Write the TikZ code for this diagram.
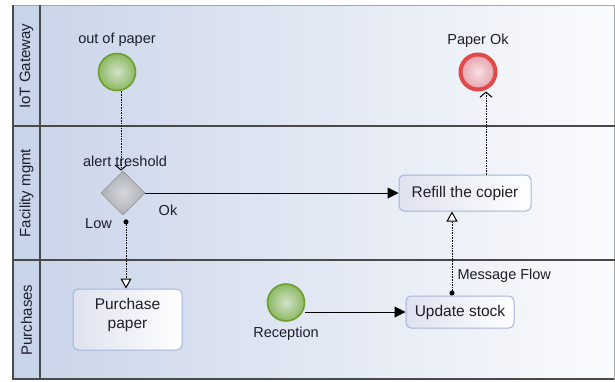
\documentclass[tikz,border=0pt]{standalone}
\usepackage{fontspec}
\setmainfont{Liberation Sans}
\usetikzlibrary{positioning, shapes.geometric, arrows.meta}
\definecolor{lanel}{HTML}{C9D4E9}
\definecolor{laner}{HTML}{FAFBFD}
\definecolor{headc}{HTML}{C8D4EA}
\definecolor{laneb}{HTML}{4A4A4A}
\definecolor{startb}{HTML}{6B9F2E}
\definecolor{startin}{HTML}{D3E3C9}
\definecolor{startout}{HTML}{8DB864}
\definecolor{endb}{HTML}{E34848}
\definecolor{endin}{HTML}{F7E2E5}
\definecolor{endout}{HTML}{E6A0AA}
\definecolor{gwin}{HTML}{D6D8DD}
\definecolor{gwout}{HTML}{ACAFB4}
\definecolor{taskb}{HTML}{A3B5DC}
\definecolor{taskl}{HTML}{DFE2EF}
\definecolor{textc}{HTML}{1E1E2A}

\begin{document}
\begin{tikzpicture}[x=1pt, y=-1pt, node distance={5pt}, text=textc, font=\fontsize{14.5}{17}\selectfont,
		start/.style = {draw=startb, circle, line width=1.6pt, inner color=startin, outer color=startout, minimum size=37pt, inner sep=0pt},
		stop/.style = {draw=endb, circle, line width=4pt, inner color=endin, outer color=endout, minimum size=35pt, inner sep=0pt},
		gate/.style = {draw=gray!80, diamond, line width=0.8pt, inner color=gwin, outer color=gwout, minimum size=44pt, inner sep=0pt},
		task/.style = {draw=taskb, rounded corners=5pt, line width=1pt, left color=taskl, right color=white, font=\fontsize{15.5}{18.5}\selectfont, align=center},
		txt/.style = {inner sep=0pt},
		seq/.style = {-{Triangle[length=11pt, width=11pt]}, line width=1pt},
		msg/.style = {{Circle[length=5pt]}-{Triangle[open, length=10pt, width=11pt, fill=white]}, dash pattern=on 1.6pt off 1pt, line width=1pt},
		assoc/.style = {-{Straight Barb[length=5pt, width=12pt]}, dash pattern=on 1.6pt off 1pt, line width=1pt}]
			\useasboundingbox (0,0) rectangle (615,381);
			\fill[left color=lanel, right color=laner] (13,5) rectangle (614,379);
			\fill[headc] (13,5) rectangle (40,379);
			\draw[gray!70] (13,5) rectangle (614,379);
			\draw[laneb, line width=1.3pt] (13,126) -- (615,126) (13,260) -- (615,260) (40,5) -- (40,379) (13,5) -- (13,379) -- (614,379);
			
			\node[txt, rotate=90] (l1) at (26.5,66) {\fontsize{15}{18}\selectfont IoT Gateway};
			\node[txt, rotate=90] (l2) at (26.5,193) {\fontsize{15}{18}\selectfont Facility mgmt};
			\node[txt, rotate=90] (l3) at (26.5,320) {\fontsize{15}{18}\selectfont Purchases};
			
			\node[start] (1) at (117,72) {};
			\node[stop] (2) at (478,72) {};
			\node[gate] (3) at (123,193) {};
			\node[start] (4) at (286,302.5) {};
			\node[task, minimum width=108pt, minimum height=32pt] (5) at (460,312) {Update stock};
			\node[task, minimum width=132pt, minimum height=36pt] (6) at (465,193) {Refill the copier};
			\node[task, minimum width=109pt, minimum height=61pt] (7) at (127.5,319.5) {Purchase\\paper\\[-6pt]\mbox{}};
			
			\node[txt] (8) [above=6pt of 1] {out of paper};
			\node[txt] (9) [above=5pt of 2] {Paper Ok};
			\node[txt] (10) [below=5pt of 4] {Reception};
			\node[txt] (11) at (125,161) {alert treshold};
			\node[txt] (12) at (98.5,223.5) {Low};
			\node[txt] (13) at (168,210.5) {Ok};
			
			\draw[assoc] ([xshift=4pt]1.south) -- ([xshift=4pt]1.south |- 3.north);
			\draw[seq] (3.east) -- (3.east -| 6.west);
			\draw[msg] ([xshift=3pt, yshift=-4pt]3.south) -- ([xshift=3pt]3.south |- 7.north);
			\draw[seq] (5.west -| 4.east) -- (5.west);
			\draw[msg] ([xshift=-8pt]5.north) -- node[txt, pos=0.23, right=5pt] (14) {Message Flow} ([xshift=-8pt]5.north |- 6.south);
			\draw[assoc] ([xshift=21pt]6.north) -- ([xshift=21pt]6.north |- 2.south);
		\end{tikzpicture}
\end{document}
